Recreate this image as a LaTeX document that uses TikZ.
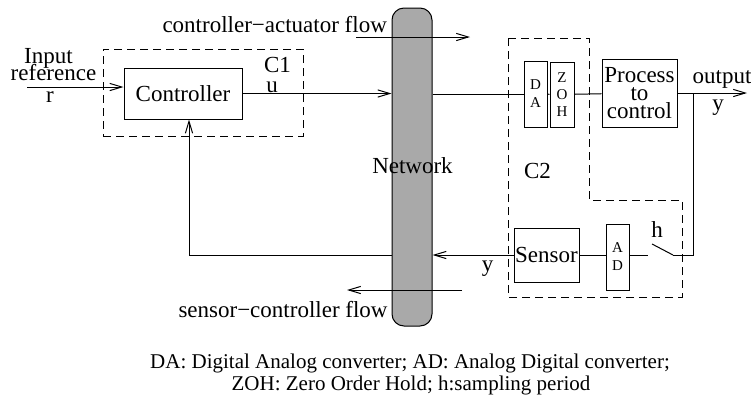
\documentclass[tikz,border=0pt]{standalone}
\usepackage{fontspec}
\setmainfont{Liberation Serif}
\usetikzlibrary{arrows.meta}
\definecolor{netgray}{RGB}{169,169,169}
\tikzset{
	blk/.style={draw, rectangle, inner sep=0pt, align=center},
	lbl/.style={inner sep=0pt, anchor=base},
	sig/.style={-{Straight Barb[length=6pt,width=3.6pt]}},
	grp/.style={draw, dash pattern=on 4pt off 2.5pt},
	small/.style={font=\fontsize{7.5}{9}\selectfont},
}
\begin{document}
\begin{tikzpicture}[x=0.5pt, y=-0.5pt, line width=0.5pt, font=\fontsize{11.5}{8}\selectfont]
		\useasboundingbox (0,0) rectangle (751,397);

		% network
		\node[draw, fill=netgray, rounded corners=6pt, minimum width=20pt, minimum height=159pt, inner sep=0pt] (net) at (412,167) {};
		\node[lbl] (nettxt) at (412.5,173) {Network};

		% dashed groups
		\node[grp, minimum width=100pt, minimum height=43.5pt, inner sep=0pt] (c1) at (203,92.5) {};
		\draw[grp] (508,38) -- (589,38) -- (589,200) -- (682,200) -- (682,297) -- (508,297) -- cycle;

		% blocks
		\node[blk, minimum width=59pt, minimum height=25.5pt] (ctrl) at (183,93.5) {Controller};
		\node[blk, small, minimum width=11.5pt, minimum height=33pt] (da) at (535.5,94) {D\\A};
		\node[blk, small, font=\fontsize{7.5}{8.5}\selectfont, minimum width=12pt, minimum height=32.5pt] (zoh) at (562,94.5) {Z\\O\\H};
		\node[blk, font=\fontsize{11.5}{9}\selectfont, minimum width=37.5pt, minimum height=34pt] (proc) at (639.5,93) {Process\\to\\control};
		\node[blk, minimum width=32.5pt, minimum height=27pt] (sens) at (546.5,255) {Sensor};
		\node[blk, small, minimum width=11.5pt, minimum height=33pt] (ad) at (617.5,257) {A\\D};

		\coordinate (inp) at (27,87);
		\coordinate (out) at (747,93);
		\coordinate (tap) at (693,93);
		\coordinate (sw) at (673,255);
		\coordinate (swpiv) at (652,244);
		\coordinate (adout) at (648,255);
		\coordinate (fb) at (189,255);
		\coordinate (caS) at (356,37);
		\coordinate (caE) at (470,37);
		\coordinate (scS) at (462,290);
		\coordinate (scE) at (347,290);

		% forward path
		\draw[sig] (inp) -- (inp -| ctrl.west);
		\draw[sig] (ctrl.east) -- (ctrl.east -| net.west);
		\draw (da.west -| net.east) -- (da.west);
		\draw (da) -- (zoh);
		\draw (zoh) -- (proc);
		\draw[sig] (proc.east) -- (out);

		% feedback path
		\draw (tap) |- (sw);
		\draw (swpiv) -- (sw);
		\draw (ad.east |- adout) -- (adout);
		\draw (sens) -- (ad.west |- sens);
		\draw[sig] (sens.west) -- (sens.west -| net.east);
		\draw[sig] (sens.west -| net.west) -- (fb) -- (fb |- ctrl.south);

		% flows
		\draw[sig] (caS) -- (caE);
		\draw[sig] (scS) -- (scE);

		% labels
		\node[lbl, anchor=base west] (catxt) at (162,32) {controller−actuator flow};
		\node[lbl, anchor=base west] (sctxt) at (178,317) {sensor−controller flow};
		\node[lbl] (in1) at (48.5,63) {Input};
		\node[lbl] (in2) at (53.5,80) {reference};
		\node[lbl] (rtxt) at (50,102) {r};
		\node[lbl] (c1txt) at (277.5,72) {C1};
		\node[lbl] (utxt) at (272,92.5) {u};
		\node[lbl] (c2txt) at (537.5,178) {C2};
		\node[lbl] (outtxt) at (722,83) {output};
		\node[lbl] (ytxt) at (718,110) {y};
		\node[lbl] (ysens) at (487.5,271) {y};
		\node[lbl] (htxt) at (657,237) {h};
		\node[lbl, font=\fontsize{10.5}{12}\selectfont] (note1) at (410,368) {DA: Digital Analog converter; AD: Analog Digital converter;};
		\node[lbl, font=\fontsize{10.5}{12}\selectfont] (note2) at (411,390) {ZOH: Zero Order Hold; h:sampling period};
	\end{tikzpicture}
\end{document}
